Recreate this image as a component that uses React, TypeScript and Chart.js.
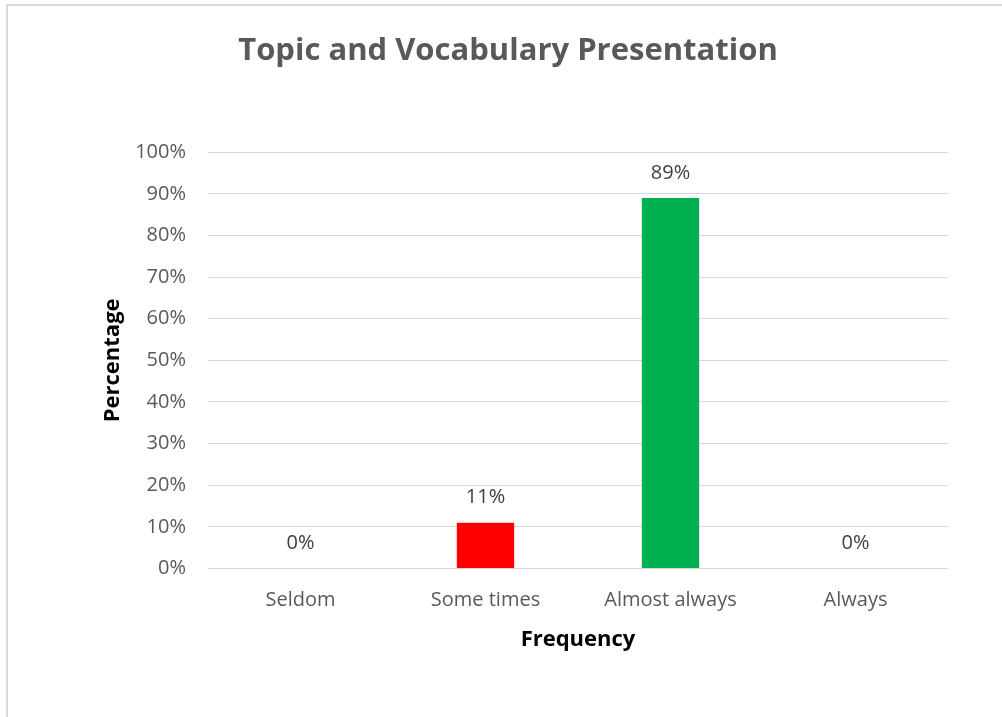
import React, { useEffect, useRef } from "react";
import { Chart, registerables } from "chart.js";

Chart.register(...registerables);

const categories = ["Seldom", "Some times", "Almost always", "Always"];
const values = [0, 11, 89, 0];
const barColors = ["#FF0000", "#FF0000", "#00B050", "#00B050"];
const yTicks = [0, 10, 20, 30, 40, 50, 60, 70, 80, 90, 100];

const FONT = "'Open Sans', 'Noto Sans', sans-serif";

const dataLabelPlugin = {
  id: "dataLabels",
  afterDatasetsDraw(chart: any) {
    const ctx = chart.ctx;
    const meta = chart.getDatasetMeta(0);
    ctx.save();
    ctx.font = `20px ${FONT}`;
    ctx.fillStyle = "#404040";
    ctx.textAlign = "center";
    ctx.textBaseline = "middle";
    meta.data.forEach((bar: any, i: number) => {
      ctx.fillText(values[i] + "%", bar.x, bar.y - 25);
    });
    ctx.restore();
  },
};

export default function App() {
  const ref = useRef<HTMLCanvasElement | null>(null);
  useEffect(() => {
    if (!ref.current) return;
    const chart = new Chart(ref.current, {
      type: "bar",
      data: {
        labels: categories,
        datasets: [
          {
            data: values,
            backgroundColor: barColors,
            barPercentage: 0.31,
            categoryPercentage: 1,
          },
        ],
      },
      options: {
        responsive: false,
        animation: false,
        layout: { padding: { left: 68, right: 54, top: 0, bottom: 48.5 } },
        plugins: {
          legend: { display: false },
          tooltip: { enabled: false },
          title: {
            display: true,
            text: "Topic and Vocabulary Presentation",
            color: "#595959",
            font: { family: FONT, size: 31, weight: "bold" },
            padding: { top: 33, bottom: 82 },
          },
        },
        scales: {
          x: {
            grid: { display: false, drawTicks: false },
            border: { display: false },
            ticks: {
              color: "#595959",
              font: { family: FONT, size: 20 },
              padding: 20,
            },
            title: {
              display: true,
              text: "Frequency",
              color: "#000000",
              font: { family: FONT, size: 22, weight: "bold" },
              padding: { top: 0, bottom: 16 },
            },
            afterFit(scale: any) {
              scale.height = 100;
            },
          },
          y: {
            min: 0,
            max: 100,
            grid: { color: "#d9d9d9", lineWidth: 1, drawTicks: false },
            border: { display: false },
            afterBuildTicks(scale: any) {
              scale.ticks = yTicks.map((v) => ({ value: v }));
            },
            ticks: {
              color: "#595959",
              font: { family: FONT, size: 20 },
              padding: 22,
              callback: (v: any) => v + "%",
            },
            title: {
              display: true,
              text: "Percentage",
              color: "#000000",
              font: { family: FONT, size: 22, weight: "bold" },
              padding: { top: 32, bottom: 0 },
            },
            afterFit(scale: any) {
              scale.width = 140;
            },
          },
        },
      },
      plugins: [dataLabelPlugin],
    });
    return () => chart.destroy();
  }, []);

  return (
    <div style={{ position: "absolute", left: 0, top: 0, width: 1002, height: 717, background: "#fff" }}>
      <div
        style={{
          position: "absolute",
          left: 6,
          top: 4,
          right: -4,
          bottom: -4,
          borderLeft: "2px solid #d9d9d9",
          borderTop: "2px solid #d9d9d9",
        }}
      />
      <canvas ref={ref} width={1002} height={717} style={{ position: "absolute", left: 0, top: 0 }} />
    </div>
  );
}
